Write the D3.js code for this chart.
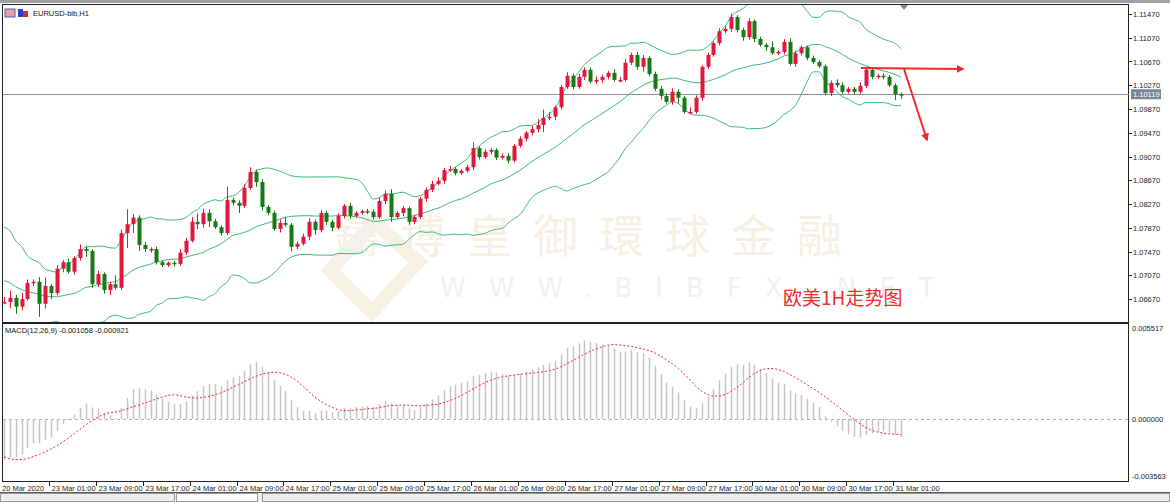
<!DOCTYPE html>
<html><head><meta charset="utf-8">
<script src="https://cdn.jsdelivr.net/npm/d3@7"></script>
<style>
body{margin:0;background:#fff;overflow:hidden}
svg{display:block;font-family:"Liberation Sans",Arial,sans-serif}
</style></head>
<body><svg width="1170" height="502"></svg>
<script>
// closes, bar 0 = 20 Mar 16:00 (H1)
const closes = [
1.0662,1.0669,1.0654,1.0667,1.0694,1.0696,1.0659,1.0689,1.0677,1.0718,
1.0729,1.0713,1.0736,1.0751,1.0748,1.0692,1.0709,1.0682,1.0692,1.0686,
1.0778,1.0793,1.0804,1.0758,1.0751,1.0751,1.0729,1.0724,1.0728,1.0726,
1.0745,1.0765,1.0797,1.0793,1.0812,1.0798,1.0788,1.0778,1.0834,1.0829,
1.0824,1.0854,1.0881,1.0864,1.0822,1.0812,1.0785,1.0795,1.0792,1.0755,
1.0760,1.0772,1.0797,1.0783,1.0812,1.0797,1.0787,1.0807,1.0824,1.0807,
1.0812,1.0815,1.0814,1.0805,1.0832,1.0844,1.0805,1.0812,1.0820,1.0797,
1.0805,1.0836,1.0851,1.0861,1.0866,1.0884,1.0886,1.0879,1.0883,1.0889,
1.0921,1.0906,1.0915,1.0918,1.0905,1.0908,1.0900,1.0925,1.0937,1.0947,
1.0953,1.0960,1.0972,1.0974,1.0990,1.1024,1.1043,1.1024,1.1041,1.1053,
1.1033,1.1036,1.1041,1.1048,1.1036,1.1036,1.1065,1.1078,1.1058,1.1073,
1.1046,1.1021,1.1009,1.0999,1.1016,1.1006,1.0982,1.0982,1.1006,1.1058,
1.1078,1.1098,1.1118,1.1122,1.1142,1.1120,1.1108,1.1135,1.1105,1.1095,
1.1091,1.1081,1.1083,1.1100,1.1063,1.1081,1.1091,1.1073,1.1066,1.1059,
1.1014,1.1031,1.1027,1.1016,1.1021,1.1016,1.1026,1.1053,1.1041,1.1043,
1.1041,1.1027,1.1012,1.10119];
// closes before the visible window (warm-up for bands and MACD)
const history = [
1.0748,1.0740,1.0752,1.0745,1.0738,1.0750,1.0742,1.0756,1.0744,1.0749,
1.0741,1.0753,1.0746,1.0739,1.0751,1.0743,1.0755,1.0747,1.0752,1.0748,
1.0778,1.0745,1.0790,1.0752,1.0770,1.0735,1.0712,1.0740,1.0700,1.0725,
1.0690,1.0670,1.0700,1.0655,1.0640,1.0668,1.0645,1.0660,1.0638,1.0662];
// wick lengths above / below the body, pips
const upperWick = [
8,12,5,10,6,4,8,14,3,6, 4,6,3,8,5,3,6,3,4,15, 6,25,6,4,5,3,4,3,2,3,
6,5,8,14,7,6,4,3,22,4, 4,6,8,4,5,3,4,6,10,3, 4,5,6,4,5,3,3,4,3,5,
3,2,4,4,6,6,8,3,4,3, 4,3,4,5,6,4,5,3,3,4, 10,3,4,3,3,4,5,3,4,3,
6,10,14,8,3,3,6,4,5,4, 4,6,4,3,6,5,6,4,5,5, 3,4,5,4,6,4,3,8,4,3,
4,3,5,4,6,3,4,5,3,4, 3,10,3,5,6,4,3,3,4,3, 3,4,6,5,3,3,6,3,3,3, 4,3,3,3];
const lowerWick = [
4,10,12,6,3,5,22,8,10,4, 6,3,5,4,10,6,5,6,8,3, 4,25,15,10,5,6,4,3,3,4,
3,4,3,8,6,10,3,4,3,5, 12,4,3,8,6,4,3,6,3,8, 4,3,6,8,4,5,6,3,4,5,
3,3,4,4,3,5,8,3,6,5, 4,3,5,4,3,5,3,4,3,3, 5,4,3,4,4,3,5,3,3,4,
4,5,12,4,6,4,3,4,3,5, 3,4,5,4,3,4,3,4,5,8, 4,4,6,3,5,10,3,4,3,5,
4,3,4,3,5,4,6,4,5,3, 6,3,3,4,3,5,4,4,3,3, 4,5,4,3,3,4,3,4,4,3, 4,3,10,8];
const priceTicks = [1.11470,1.11070,1.10670,1.10270,1.09870,1.09470,1.09070,1.08670,1.08270,1.07870,1.07470,1.07070,1.06670];
const macdTicks = [0.005517,0.0,-0.003563];
const timeLabels = ["20 Mar 2020","23 Mar 01:00","23 Mar 09:00","23 Mar 17:00","24 Mar 01:00","24 Mar 09:00","24 Mar 17:00",
"25 Mar 01:00","25 Mar 09:00","25 Mar 17:00","26 Mar 01:00","26 Mar 09:00","26 Mar 17:00","27 Mar 01:00","27 Mar 09:00",
"27 Mar 17:00","30 Mar 01:00","30 Mar 09:00","30 Mar 17:00","31 Mar 01:00"];
const lastPrice = 1.10119;

const svg = d3.select("svg");
const L = 3, R = 1129, T = 5, mainB = 323, macdB = 482;
const up = "#e3163c", down = "#167a16", band = "#3cb878";
const fs = 7.5;

// build ohlc
const bars = closes.map((c, i) => {
  const o = i === 0 ? history[history.length - 1] : closes[i - 1];
  return {i, o, c, h: Math.max(o, c) + upperWick[i] / 10000, l: Math.min(o, c) - lowerWick[i] / 10000};
});

// bollinger 20,2 and MACD 12,26,9 (MT5 style: SMA signal)
const all = history.concat(closes), off = history.length;
const bb = closes.map((_, i) => {
  const w = all.slice(off + i - 19, off + i + 1);
  const m = d3.mean(w), s = Math.sqrt(d3.mean(w, v => (v - m) ** 2));
  return {i, m, u: m + 2 * s, d: m - 2 * s};
});
function ema(arr, n) { const k = 2 / (n + 1); let e = arr[0]; return arr.map(v => (e = v * k + e * (1 - k))); }
const e12 = ema(all, 12), e26 = ema(all, 26);
const macdAll = all.map((_, i) => e12[i] - e26[i]);
const macd = closes.map((_, i) => ({i, v: macdAll[off + i], s: d3.mean(macdAll.slice(off + i - 8, off + i + 1))}));

const x = d3.scaleLinear().domain([0, closes.length - 1]).range([4, 901]);
const y = d3.scaleLinear().domain([1.06670, 1.11470]).range([299, 14]);
const ym = d3.scaleLinear().domain([0, 0.005517]).range([419, 327]);

// frame
svg.append("rect").attr("x", 0).attr("y", 0).attr("width", 1170).attr("height", 502).attr("fill", "#fff");
svg.append("rect").attr("x", 0).attr("y", 0).attr("width", 1170).attr("height", 3).attr("fill", "#a0a0a0");
svg.append("rect").attr("x", 0).attr("y", 492).attr("width", 1170).attr("height", 10).attr("fill", "#f0f0f0");
svg.append("line").attr("x1", 0).attr("x2", 1170).attr("y1", 492.5).attr("y2", 492.5).attr("stroke", "#555");
[[0,175],[176,258],[262,1170]].forEach(t => svg.append("rect").attr("x", t[0] + 0.5).attr("y", 493.5)
  .attr("width", t[1] - t[0] - 1).attr("height", 8).attr("fill", t[0] === 176 ? "#fff" : "#ececec").attr("stroke", "#999"));

// watermark
const wm = svg.append("g");
wm.append("path").attr("d", "M375,222 L418,262 L372,312 L330,270 Z").attr("fill", "none").attr("stroke", "#f7f0e4").attr("stroke-width", 14);
wm.append("path").attr("d", "M338,262 L372,228").attr("stroke", "#f2f2f2").attr("stroke-width", 12);
wm.append("text").attr("x", 335).attr("y", 253).attr("font-family", "Noto Sans CJK TC").attr("font-size", 45)
  .attr("fill", "#f7eee4").attr("letter-spacing", 21).text("鑄博皇御環球金融");
wm.append("text").attr("x", 440).attr("y", 297).attr("font-family", "DejaVu Sans").attr("font-size", 26)
  .attr("fill", "#f0f0f0").attr("letter-spacing", 23).text("WWW.BIBFX.NET");

// pane borders
svg.append("rect").attr("x", L - 0.5).attr("y", T - 0.5).attr("width", R - L).attr("height", mainB - T).attr("fill", "none").attr("stroke", "#222");
svg.append("rect").attr("x", L - 0.5).attr("y", mainB + 0.5).attr("width", R - L).attr("height", macdB - mainB - 1).attr("fill", "none").attr("stroke", "#222");

svg.append("clipPath").attr("id", "cm").append("rect").attr("x", L).attr("y", T).attr("width", R - L - 1).attr("height", mainB - T - 1);

// current price line
svg.append("line").attr("x1", L).attr("x2", R).attr("y1", Math.round(y(lastPrice)) + 0.5).attr("y2", Math.round(y(lastPrice)) + 0.5)
  .attr("stroke", "#8a9099");

// bollinger bands
const gm = svg.append("g").attr("clip-path", "url(#cm)");
["u", "m", "d"].forEach(k => gm.append("path").datum(bb).attr("fill", "none").attr("stroke", band).attr("stroke-width", 1)
  .attr("d", d3.line().x(d => x(d.i)).y(d => y(d[k])).curve(d3.curveMonotoneX)));

// candles
const cg = gm.selectAll("g.c").data(bars).enter().append("g");
cg.append("line").attr("x1", d => Math.round(x(d.i)) + 0.5).attr("x2", d => Math.round(x(d.i)) + 0.5)
  .attr("y1", d => y(d.h)).attr("y2", d => y(d.l)).attr("stroke", d => d.c >= d.o ? up : down);
cg.append("rect").attr("x", d => Math.round(x(d.i)) - 1.5).attr("width", 4)
  .attr("y", d => y(Math.max(d.o, d.c))).attr("height", d => Math.max(1.5, Math.abs(y(d.o) - y(d.c))))
  .attr("fill", d => d.c >= d.o ? up : down);

// red arrows
svg.append("defs").append("marker").attr("id", "ah").attr("viewBox", "0 0 10 10").attr("refX", 8).attr("refY", 5)
  .attr("markerWidth", 4).attr("markerHeight", 4).attr("orient", "auto")
  .append("path").attr("d", "M0,0 L10,5 L0,10 Z").attr("fill", "#f02a2a");
svg.append("line").attr("x1", 861).attr("y1", 68).attr("x2", 963).attr("y2", 69).attr("stroke", "#f02a2a").attr("stroke-width", 2).attr("marker-end", "url(#ah)");
svg.append("line").attr("x1", 904).attr("y1", 69).attr("x2", 927).attr("y2", 140).attr("stroke", "#f02a2a").attr("stroke-width", 2).attr("marker-end", "url(#ah)");
svg.append("path").attr("d", "M900,5 L908,5 L904,10 Z").attr("fill", "#888");

// price axis
const pa = svg.append("g").attr("font-size", fs).attr("fill", "#222");
priceTicks.forEach(p => {
  pa.append("line").attr("x1", R).attr("x2", R + 3).attr("y1", Math.round(y(p)) + 0.5).attr("y2", Math.round(y(p)) + 0.5).attr("stroke", "#222");
  pa.append("text").attr("x", R + 4).attr("y", y(p) + 3).text(p.toFixed(5));
});
pa.append("rect").attr("x", R + 2).attr("y", y(lastPrice) - 5).attr("width", 30).attr("height", 10).attr("fill", "#77879a");
pa.append("text").attr("x", R + 4).attr("y", y(lastPrice) + 3).attr("fill", "#fff").text(lastPrice.toFixed(5));

// MACD pane
svg.append("line").attr("x1", L).attr("x2", R).attr("y1", ym(0) + 0.5).attr("y2", ym(0) + 0.5).attr("stroke", "#a8b0b8").attr("stroke-dasharray", "3,3");
svg.append("g").selectAll("line").data(macd).enter().append("line")
  .attr("x1", d => Math.round(x(d.i)) + 0.5).attr("x2", d => Math.round(x(d.i)) + 0.5)
  .attr("y1", ym(0)).attr("y2", d => ym(d.v)).attr("stroke", "#c4c4c4").attr("stroke-width", 1.5);
svg.append("path").datum(macd).attr("fill", "none").attr("stroke", "#f0203a").attr("stroke-width", 1).attr("stroke-dasharray", "2,2")
  .attr("d", d3.line().x(d => x(d.i)).y(d => ym(d.s)).curve(d3.curveMonotoneX));
macdTicks.forEach((v, k) => {
  svg.append("text").attr("x", R + 3).attr("y", [331, ym(0) + 3, 479][k]).attr("font-size", fs).attr("fill", "#222").text(v.toFixed(6));
});

// time axis
const ta = svg.append("g").attr("font-size", fs).attr("fill", "#222");
timeLabels.forEach((t, k) => {
  const tx = Math.round(x(k * 8)) - 1.5;
  if (k > 0) ta.append("line").attr("x1", tx).attr("x2", tx).attr("y1", macdB).attr("y2", macdB + 4).attr("stroke", "#222");
  ta.append("text").attr("x", k === 0 ? 2 : tx + 2).attr("y", 491).text(t);
});

// titles
svg.append("rect").attr("x", 5).attr("y", 9).attr("width", 10).attr("height", 8).attr("fill", "#e9a0a0").attr("stroke", "#4060c0");
svg.append("rect").attr("x", 18).attr("y", 9).attr("width", 5).attr("height", 8).attr("fill", "#2a3fd0");
svg.append("rect").attr("x", 23).attr("y", 11).attr("width", 5).attr("height", 6).attr("fill", "#d03030");
svg.append("text").attr("x", 33).attr("y", 16).attr("font-size", fs).attr("fill", "#111").text("EURUSD-bib,H1");
svg.append("text").attr("x", 5).attr("y", 333).attr("font-size", fs).attr("fill", "#111")
  .text("MACD(12,26,9) -0.001058 -0.000921");
svg.append("text").attr("x", 783).attr("y", 305).attr("font-family", "Noto Sans CJK SC").attr("font-size", 19)
  .attr("fill", "#ee2b2b").text("欧美1H走势图");
</script></body></html>
